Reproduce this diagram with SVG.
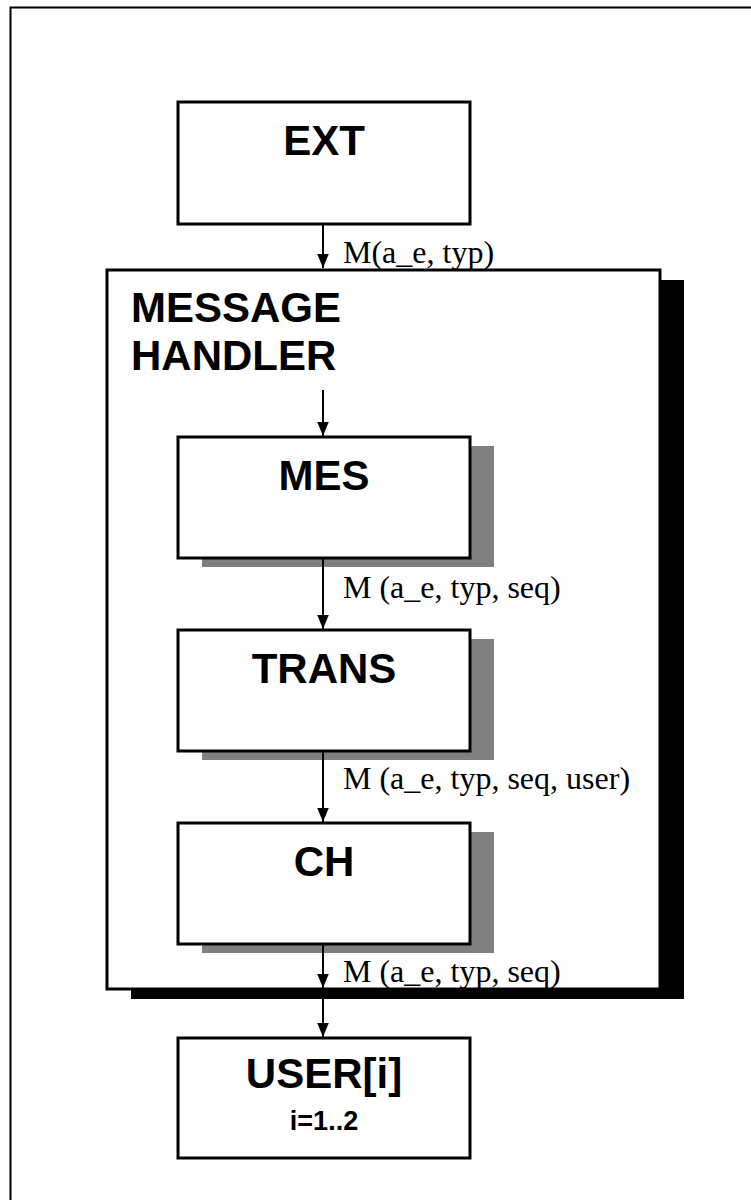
<svg xmlns="http://www.w3.org/2000/svg" width="751" height="1200" viewBox="0 0 751 1200">
<style>
.box{fill:#fff;stroke:#000;stroke-width:3}
.gshadow{fill:#808080}
.bshadow{fill:#000}
.title{font-family:"Liberation Sans",Arial,sans-serif;font-weight:bold;font-size:42px;fill:#000}
.sub{font-family:"Liberation Sans",Arial,sans-serif;font-weight:bold;font-size:27px;fill:#000}
.lbl{font-family:"Liberation Serif","Times New Roman",serif;font-size:32px;fill:#000}
.conn{stroke:#000;stroke-width:2;fill:none}
</style>
<defs>
<marker id="ah" markerWidth="14" markerHeight="17" refX="17" refY="7" orient="auto" markerUnits="userSpaceOnUse" viewBox="0 0 17 14">
<path d="M0,0 L17,7 L0,14 Z" fill="#000"/>
</marker>
</defs>
<rect x="0" y="0" width="751" height="1200" fill="#fff"/>
<path d="M10.5,1205 V7.5 H760" fill="none" stroke="#000" stroke-width="2"/>

<g id="message-handler">
<rect class="bshadow" x="131" y="280" width="553" height="719"/>
<rect class="box" x="107" y="270" width="553" height="719"/>
<text class="title" x="131" y="322">MESSAGE</text>
<text class="title" x="131" y="370">HANDLER</text>
</g>

<g id="ext">
<rect class="box" x="178" y="102" width="292" height="122"/>
<text class="title" x="324" y="155" text-anchor="middle">EXT</text>
</g>

<g id="mes">
<rect class="gshadow" x="202" y="446" width="292" height="121"/>
<rect class="box" x="178" y="437" width="292" height="121"/>
<text class="title" x="324" y="490" text-anchor="middle">MES</text>
</g>

<g id="trans">
<rect class="gshadow" x="202" y="639" width="292" height="121"/>
<rect class="box" x="178" y="630" width="292" height="121"/>
<text class="title" x="324" y="683" text-anchor="middle">TRANS</text>
</g>

<g id="ch">
<rect class="gshadow" x="202" y="832" width="292" height="121"/>
<rect class="box" x="178" y="823" width="292" height="121"/>
<text class="title" x="324" y="876" text-anchor="middle">CH</text>
</g>

<g id="user">
<rect class="box" x="178" y="1038" width="292" height="120"/>
<text class="title" x="324" y="1088" text-anchor="middle">USER[i]</text>
<text class="sub" x="324" y="1130" text-anchor="middle">i=1..2</text>
</g>

<g id="connectors">
<line class="conn" x1="323" y1="225" x2="323" y2="268" marker-end="url(#ah)"/>
<line class="conn" x1="323" y1="390" x2="323" y2="436" marker-end="url(#ah)"/>
<line class="conn" x1="323" y1="559" x2="323" y2="629" marker-end="url(#ah)"/>
<line class="conn" x1="323" y1="752" x2="323" y2="822" marker-end="url(#ah)"/>
<line class="conn" x1="323" y1="945" x2="323" y2="988" marker-end="url(#ah)"/>
<line class="conn" x1="323" y1="999" x2="323" y2="1037" marker-end="url(#ah)"/>
<text class="lbl" x="343" y="263">M(a_e, typ)</text>
<text class="lbl" x="343" y="598">M (a_e, typ, seq)</text>
<text class="lbl" x="343" y="789">M (a_e, typ, seq, user)</text>
<text class="lbl" x="343" y="982">M (a_e, typ, seq)</text>
</g>
</svg>
